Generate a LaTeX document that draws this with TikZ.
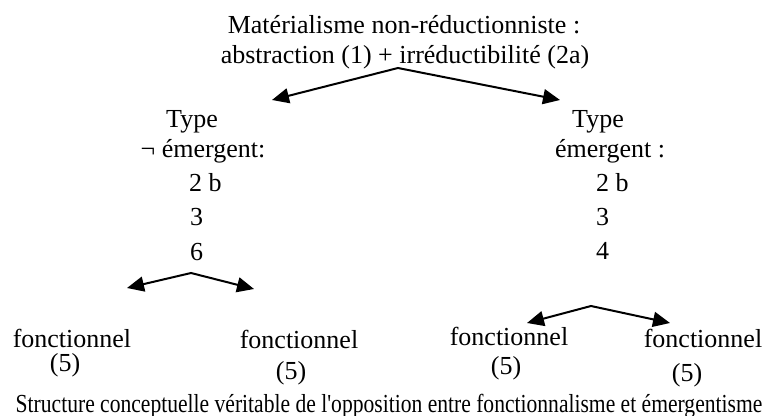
\documentclass[tikz,border=0pt]{standalone}
\usepackage{fontspec}
\setmainfont{Liberation Serif}
\newfontfamily\capfont[FakeStretch=0.83]{Liberation Serif}
\usetikzlibrary{arrows.meta}
\begin{document}
\begin{tikzpicture}[x=1pt,y=-1pt,
  txt/.style={inner sep=0pt,font=\fontsize{26}{30}\selectfont},
  captxt/.style={inner sep=0pt,font=\capfont\fontsize{26}{30}\selectfont},
  twoarr/.style={line width=2pt,line join=miter,
    {Triangle[length=17pt,width=15pt]}-{Triangle[length=17pt,width=15pt]}}]
\useasboundingbox (0,0) rectangle (768,415);
% top
\node[txt,anchor=base] (t1) at (404,33) {Matérialisme non-réductionniste :};
\node[txt,anchor=base] (t2) at (405,63) {abstraction (1) + irréductibilité (2a)};
% left column
\node[txt,anchor=base] (lt) at (192,127) {Type};
\node[txt,anchor=base] (le) at (203,157) {¬ émergent:};
\node[txt,anchor=base west] (l1) at (189,191) {2 b};
\node[txt,anchor=base west] (l2) at (190,225) {3};
\node[txt,anchor=base west] (l3) at (190,260) {6};
% right column
\node[txt,anchor=base] (rt) at (598,127) {Type};
\node[txt,anchor=base] (re) at (610,157) {émergent :};
\node[txt,anchor=base west] (r1) at (596,191) {2 b};
\node[txt,anchor=base west] (r2) at (596,225) {3};
\node[txt,anchor=base west] (r3) at (596,259) {4};
% bottom
\node[txt,anchor=base] (f1) at (72,347) {fonctionnel};
\node[txt,anchor=base] (p1) at (65,371) {(5)};
\node[txt,anchor=base] (f2) at (299,348) {fonctionnel};
\node[txt,anchor=base] (p2) at (291,379) {(5)};
\node[txt,anchor=base] (f3) at (509,345) {fonctionnel};
\node[txt,anchor=base] (p3) at (506,374) {(5)};
\node[txt,anchor=base] (f4) at (703,347) {fonctionnel};
\node[txt,anchor=base] (p4) at (687,381) {(5)};
% caption
\node[captxt,anchor=base] (cap) at (389,412) {Structure conceptuelle véritable de l'opposition entre fonctionnalisme et émergentisme};
% arrows
\coordinate (a0) at (398,68);
\coordinate (a1) at (272,100);
\coordinate (a2) at (560,100);
\coordinate (b0) at (191,273);
\coordinate (b1) at (127,288);
\coordinate (b2) at (254,289);
\coordinate (c0) at (591,306);
\coordinate (c1) at (527,323);
\coordinate (c2) at (670,323);
\draw[twoarr] (a1) -- (a0) -- (a2);
\draw[twoarr] (b1) -- (b0) -- (b2);
\draw[twoarr] (c1) -- (c0) -- (c2);
\end{tikzpicture}
\end{document}
